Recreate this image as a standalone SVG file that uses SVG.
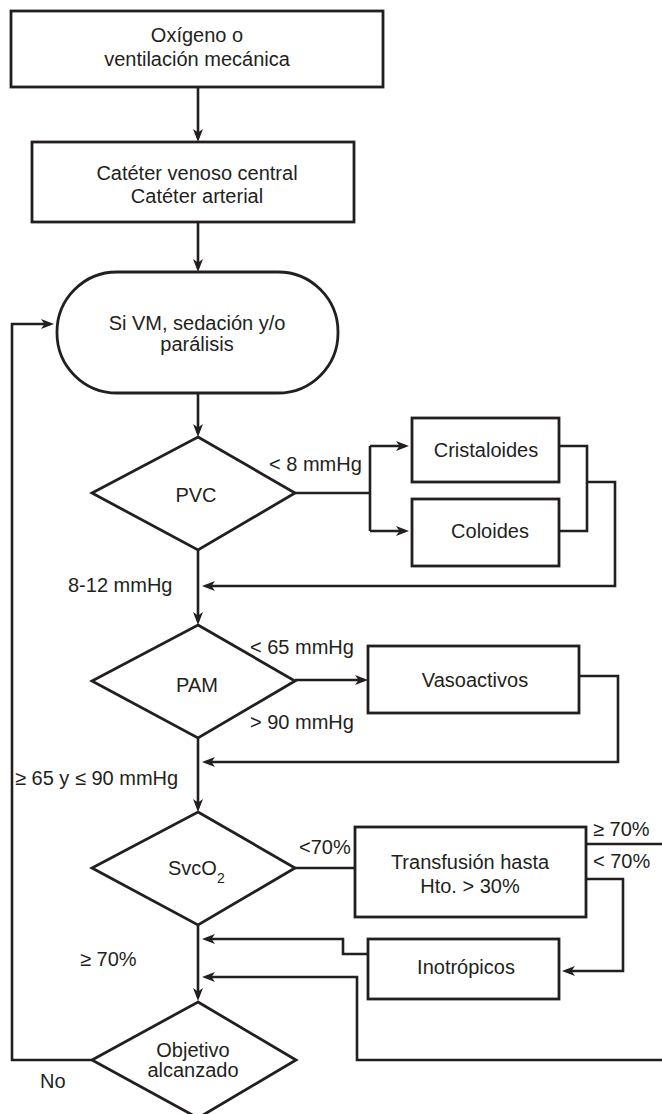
<svg xmlns="http://www.w3.org/2000/svg" width="662" height="1114" viewBox="0 0 662 1114">
<style>
.box{fill:#fff;stroke:#231f20;stroke-width:2.8}
.ln{fill:none;stroke:#231f20;stroke-width:2.6}
.arr{fill:none;stroke:#231f20;stroke-width:2.6;marker-end:url(#ah)}
text{font-family:"Liberation Sans",Arial,sans-serif;font-size:20px;fill:#231f20}
.c{text-anchor:middle}
</style>
<defs>
<marker id="ah" markerUnits="userSpaceOnUse" markerWidth="14" markerHeight="12" refX="9" refY="5" orient="auto">
<path d="M0,0 L13,5 L0,10 L3.5,5 z" fill="#231f20"/>
</marker>
</defs>
<rect width="662" height="1114" fill="#fff"/>
<g id="connectors">
<path class="arr" d="M198,87 V138"/>
<path class="arr" d="M198,222 V268"/>
<path class="arr" d="M198,393 V433"/>
<path class="arr" d="M198,550 V621"/>
<path class="arr" d="M198,738 V808"/>
<path class="arr" d="M198,925 V997"/>
<path class="ln" d="M295,493 H370"/>
<path class="ln" d="M370,446 V531"/>
<path class="arr" d="M370,446 H405"/>
<path class="arr" d="M370,531 H405"/>
<path class="ln" d="M559,446 H587 V531 H559"/>
<path class="arr" d="M587,482 H615 V586 H206"/>
<path class="arr" d="M295,680 H364"/>
<path class="arr" d="M579,676 H618 V762 H206"/>
<path class="ln" d="M295,868 H355"/>
<path class="ln" d="M586,844 H662"/>
<path class="arr" d="M586,879 H623 V971 H566"/>
<path class="arr" d="M368,954 H343 V939 H206"/>
<path class="arr" d="M662,1060 H357 V977 H206"/>
<path class="arr" d="M92,1060 H12 V324 H50"/>
</g>
<g id="n-oxigeno">
<rect class="box" x="11" y="11" width="372" height="76"/>
<text class="c" x="197" y="42">Oxígeno o</text>
<text class="c" x="197" y="66">ventilación mecánica</text>
</g>
<g id="n-cateter">
<rect class="box" x="32" y="142" width="322" height="80"/>
<text class="c" x="197" y="180">Catéter venoso central</text>
<text class="c" x="197" y="203">Catéter arterial</text>
</g>
<g id="n-sedacion">
<rect class="box" x="57" y="272" width="281" height="121" rx="60" ry="60"/>
<text class="c" x="197" y="330">Si VM, sedación y/o</text>
<text class="c" x="197" y="351">parálisis</text>
</g>
<g id="n-pvc">
<polygon class="box" points="198,437 295,493 198,550 92,493"/>
<text class="c" x="196" y="502">PVC</text>
</g>
<g id="n-cristaloides">
<rect class="box" x="412" y="418" width="147" height="64"/>
<text class="c" x="486" y="457">Cristaloides</text>
</g>
<g id="n-coloides">
<rect class="box" x="412" y="499" width="147" height="67"/>
<text class="c" x="490" y="538">Coloides</text>
</g>
<g id="n-pam">
<polygon class="box" points="198,625 295,681 198,738 92,681"/>
<text class="c" x="197" y="692">PAM</text>
</g>
<g id="n-vasoactivos">
<rect class="box" x="368" y="646" width="211" height="67"/>
<text class="c" x="475" y="687">Vasoactivos</text>
</g>
<g id="n-svco2">
<polygon class="box" points="198,812 295,868 198,925 92,868"/>
<text x="168" y="875">SvcO<tspan dy="8" font-size="14">2</tspan></text>
</g>
<g id="n-transfusion">
<rect class="box" x="355" y="827" width="231" height="90"/>
<text class="c" x="470" y="869">Transfusión hasta</text>
<text class="c" x="470" y="893">Hto. &gt; 30%</text>
</g>
<g id="n-inotropicos">
<rect class="box" x="368" y="939" width="191" height="60"/>
<text class="c" x="466" y="974">Inotrópicos</text>
</g>
<g id="n-objetivo">
<polygon class="box" points="198,1002 296,1060 198,1118 92,1060"/>
<text class="c" x="193" y="1057">Objetivo</text>
<text class="c" x="193" y="1077">alcanzado</text>
</g>
<g id="labels">
<text x="269" y="471">&lt; 8 mmHg</text>
<text x="68" y="592">8-12 mmHg</text>
<text x="250" y="654">&lt; 65 mmHg</text>
<text x="250" y="729">&gt; 90 mmHg</text>
<text x="15" y="785">≥ 65 y ≤ 90 mmHg</text>
<text x="299" y="854">&lt;70%</text>
<text x="593" y="836">≥ 70%</text>
<text x="593" y="868">&lt; 70%</text>
<text x="80" y="966">≥ 70%</text>
<text x="40" y="1088">No</text>
</g>
</svg>
